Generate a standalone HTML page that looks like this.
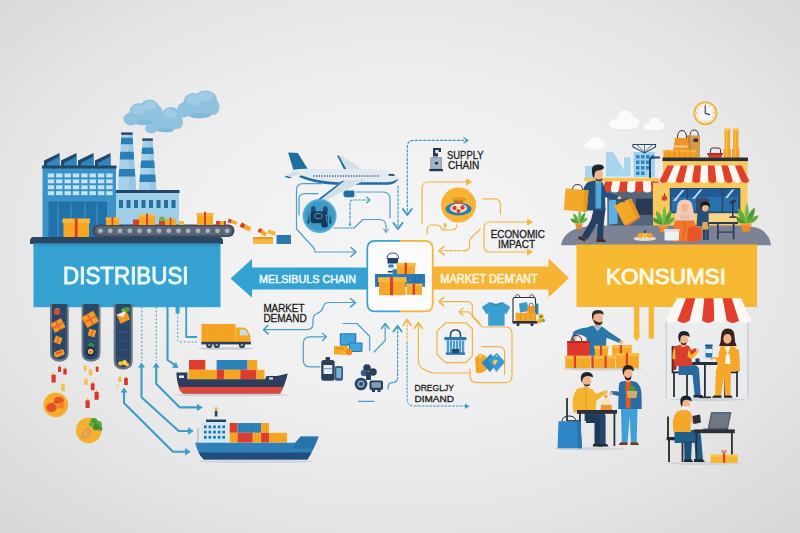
<!DOCTYPE html>
<html><head><meta charset="utf-8">
<style>
html,body{margin:0;padding:0;background:#e6e6e6;}
body{width:800px;height:533px;overflow:hidden;font-family:"Liberation Sans",sans-serif;}
svg{display:block}
text{font-family:"Liberation Sans",sans-serif;}
</style></head><body>
<svg width="800" height="533" viewBox="0 0 800 533">
<defs>
<radialGradient id="bg" cx="50%" cy="47%" r="76%">
<stop offset="0" stop-color="#f5f5f5"/><stop offset="0.35" stop-color="#f0f0f0"/><stop offset="0.65" stop-color="#e6e6e6"/><stop offset="1" stop-color="#d4d4d4"/>
</radialGradient>
<filter id="soft" x="-5%" y="-5%" width="110%" height="110%"><feGaussianBlur stdDeviation="0.45"/></filter>
</defs>
<rect width="800" height="533" fill="url(#bg)"/>
<g filter="url(#soft)">
<!--SMOKE-->
<g id="smoke">
<g fill="#8fc2de">
<ellipse cx="131" cy="119" rx="7.500" ry="6.500"/><ellipse cx="139" cy="112" rx="9.500" ry="9"/><ellipse cx="149.500" cy="108" rx="9.500" ry="8.500"/><ellipse cx="156.500" cy="112" rx="6" ry="7"/><ellipse cx="143" cy="119" rx="12" ry="6.500"/>
<ellipse cx="151.500" cy="128.500" rx="6.500" ry="5"/><ellipse cx="160" cy="123" rx="9.500" ry="8.500"/><ellipse cx="171" cy="116.500" rx="10" ry="9.500"/><ellipse cx="177.500" cy="122" rx="5.500" ry="7"/><ellipse cx="166" cy="127" rx="10" ry="5.500"/>
<ellipse cx="184" cy="110" rx="7" ry="7.500"/><ellipse cx="193" cy="103" rx="10" ry="10"/><ellipse cx="205.500" cy="100" rx="11.500" ry="9.500"/><ellipse cx="213" cy="107" rx="6.500" ry="8"/><ellipse cx="199" cy="112" rx="14" ry="6.500"/>
</g>
<g fill="#a2cee6" opacity="0.850"><ellipse cx="139" cy="110" rx="6.500" ry="5"/><ellipse cx="150" cy="105.500" rx="6" ry="4.500"/><ellipse cx="170" cy="114" rx="6.500" ry="5"/><ellipse cx="194" cy="100" rx="7" ry="5.500"/><ellipse cx="206" cy="96.500" rx="7.500" ry="4.500"/></g>
<g fill="#7db6d6" opacity="0.700"><ellipse cx="145" cy="122" rx="9" ry="2.500"/><ellipse cx="165" cy="130" rx="8" ry="2"/><ellipse cx="200" cy="115.500" rx="11" ry="2.500"/></g>
</g>
<!--FACTORY-->
<g id="factory">
<!-- chimneys -->
<polygon points="121.6,133 132.3,133 136.2,190.6 117.7,190.6" fill="#a6d1e9"/><polygon points="128.4,133 132.3,133 136.2,190.6 129.4,190.6" fill="#96c6e2"/><polygon points="121.3,137.8 132.6,137.8 133.1,144.3 120.8,144.3" fill="#2a7fb5"/><polygon points="120.3,151.8 133.6,151.8 134.1,159.4 119.8,159.4" fill="#2a7fb5"/><polygon points="119.2,169 134.7,169 135.3,176.6 118.6,176.6" fill="#2a7fb5"/><rect x="121.19999999999999" y="132.4" width="11.500000000000018" height="2.4" fill="#24466a"/>
<polygon points="142.7,139 152.4,139 156.5,190.6 138.8,190.6" fill="#a6d1e9"/><polygon points="149.1,139 152.4,139 156.5,190.6 150.2,190.6" fill="#96c6e2"/><polygon points="142.1,147.5 153.1,147.5 153.6,154 141.6,154" fill="#2a7fb5"/><polygon points="141.1,160.5 154.1,160.5 154.7,168 140.5,168" fill="#2a7fb5"/><polygon points="140.0,174.5 155.2,174.5 155.8,182 139.5,182" fill="#2a7fb5"/><rect x="142.29999999999998" y="138.4" width="10.500000000000018" height="2.4" fill="#24466a"/>
<!-- secondary building -->
<rect x="116" y="191" width="63" height="46" fill="#9fcfe9"/>
<rect x="115.500" y="190" width="64" height="3" fill="#24466a"/>
<g fill="#256f9f">
<rect x="119" y="200" width="4" height="8"/><rect x="126.500" y="200" width="4" height="8"/><rect x="134" y="200" width="4" height="8"/><rect x="141.500" y="200" width="4" height="8"/><rect x="149" y="200" width="4" height="8"/><rect x="156.500" y="200" width="4" height="8"/><rect x="164" y="200" width="4" height="8"/><rect x="171.500" y="200" width="4" height="8"/>
</g>
<!-- main building -->
<g>
<polygon points="44,160.500 59.500,153 59.500,166 44,166" fill="#24466a"/><polygon points="47,163 59.500,156.500 59.500,166 47,166" fill="#2f86bd"/>
<polygon points="61,160.500 76.500,153 76.500,166 61,166" fill="#24466a"/><polygon points="64,163 76.500,156.500 76.500,166 64,166" fill="#2f86bd"/>
<polygon points="78,160.500 93.500,153 93.500,166 78,166" fill="#24466a"/><polygon points="81,163 93.500,156.500 93.500,166 81,166" fill="#2f86bd"/>
<polygon points="95,160.500 110.500,153 110.500,166 95,166" fill="#24466a"/><polygon points="98,163 110.500,156.500 110.500,166 98,166" fill="#2f86bd"/>
</g>
<rect x="42.500" y="166" width="73.500" height="71" fill="#3b93c7"/>
<rect x="42" y="165.500" width="74.500" height="3" fill="#24466a"/>
<g fill="#c4e3f5">
<rect x="47.8" y="173.5" width="6.4" height="3.9"/><rect x="56.1" y="173.5" width="6.4" height="3.9"/><rect x="64.5" y="173.5" width="6.4" height="3.9"/><rect x="72.8" y="173.5" width="6.4" height="3.9"/><rect x="81.2" y="173.5" width="6.4" height="3.9"/><rect x="89.5" y="173.5" width="6.4" height="3.9"/><rect x="97.9" y="173.5" width="6.4" height="3.9"/><rect x="106.2" y="173.5" width="6.4" height="3.9"/><rect x="47.8" y="179.4" width="6.4" height="3.9"/><rect x="56.1" y="179.4" width="6.4" height="3.9"/><rect x="64.5" y="179.4" width="6.4" height="3.9"/><rect x="72.8" y="179.4" width="6.4" height="3.9"/><rect x="81.2" y="179.4" width="6.4" height="3.9"/><rect x="89.5" y="179.4" width="6.4" height="3.9"/><rect x="97.9" y="179.4" width="6.4" height="3.9"/><rect x="106.2" y="179.4" width="6.4" height="3.9"/><rect x="47.8" y="185.3" width="6.4" height="3.9"/><rect x="56.1" y="185.3" width="6.4" height="3.9"/><rect x="64.5" y="185.3" width="6.4" height="3.9"/><rect x="72.8" y="185.3" width="6.4" height="3.9"/><rect x="81.2" y="185.3" width="6.4" height="3.9"/><rect x="89.5" y="185.3" width="6.4" height="3.9"/><rect x="97.9" y="185.3" width="6.4" height="3.9"/><rect x="106.2" y="185.3" width="6.4" height="3.9"/><rect x="47.8" y="191.2" width="6.4" height="3.9"/><rect x="56.1" y="191.2" width="6.4" height="3.9"/><rect x="64.5" y="191.2" width="6.4" height="3.9"/><rect x="72.8" y="191.2" width="6.4" height="3.9"/><rect x="81.2" y="191.2" width="6.4" height="3.9"/><rect x="89.5" y="191.2" width="6.4" height="3.9"/><rect x="97.9" y="191.2" width="6.4" height="3.9"/><rect x="106.2" y="191.2" width="6.4" height="3.9"/>
</g>
<rect x="48.500" y="201.500" width="58.500" height="35.500" fill="#2272aa"/>
<g stroke="#4aa0d2" stroke-width="0.8"><line x1="58" y1="203" x2="58" y2="237"/><line x1="71" y1="203" x2="71" y2="237"/><line x1="85" y1="203" x2="85" y2="237"/><line x1="97" y1="203" x2="97" y2="237"/></g>
</g>
<!--CONVEYOR-->
<g id="conveyor">
<rect x="92.500" y="224.500" width="142" height="12.500" rx="6.200" fill="#3d4b5c"/>
<rect x="95" y="226.300" width="137" height="9" rx="4.500" fill="#5b6778"/>
<g fill="#aab4bf">
<circle cx="100.5" cy="230.8" r="2.4"/><circle cx="110.2" cy="230.8" r="2.4"/><circle cx="120.0" cy="230.8" r="2.4"/><circle cx="129.8" cy="230.8" r="2.4"/><circle cx="139.5" cy="230.8" r="2.4"/><circle cx="149.2" cy="230.8" r="2.4"/><circle cx="159.0" cy="230.8" r="2.4"/><circle cx="168.8" cy="230.8" r="2.4"/><circle cx="178.5" cy="230.8" r="2.4"/><circle cx="188.2" cy="230.8" r="2.4"/><circle cx="198.0" cy="230.8" r="2.4"/><circle cx="207.8" cy="230.8" r="2.4"/><circle cx="217.5" cy="230.8" r="2.4"/><circle cx="227.2" cy="230.8" r="2.4"/>
</g>
</g>
<!--BOXES ON CONVEYOR-->
<g id="cboxes">
<rect x="63.500" y="222" width="25.500" height="15" fill="#f7a823"/><rect x="62.500" y="218.500" width="27.500" height="4.500" fill="#f9b53a"/><rect x="74.800" y="218.500" width="2.800" height="18.500" fill="#d9402b"/>
<rect x="106" y="219" width="13" height="6" fill="#f7a823"/><rect x="105.500" y="217.500" width="14" height="2" fill="#f9b53a"/><rect x="111.500" y="216.500" width="1.800" height="8.500" fill="#d9402b"/>
<rect x="133" y="219.500" width="6" height="5.500" fill="#d9402b"/>
<rect x="139" y="216" width="16" height="9" fill="#f7a823"/><rect x="138.500" y="214.500" width="17" height="2.500" fill="#f9b53a"/><rect x="146" y="213.500" width="2" height="11.500" fill="#d9402b"/>
<circle cx="162" cy="219.500" r="3" fill="#6fb24a"/><rect x="159" y="221" width="6" height="4" fill="#d9402b"/>
<rect x="165" y="219" width="11" height="6" fill="#f7a823"/><rect x="169.800" y="217.500" width="1.600" height="7.500" fill="#d9402b"/>
<rect x="179" y="221" width="5" height="4" fill="#f9b53a"/>
<rect x="197" y="215" width="16" height="10" fill="#f7a823"/><rect x="196.500" y="213" width="17" height="3" fill="#f9b53a"/><rect x="204" y="212" width="2" height="13" fill="#d9402b"/>
<rect x="216" y="221" width="10" height="4" fill="#d9402b"/><rect x="220" y="221" width="4" height="4" fill="#f7a823"/>
<!-- falling -->
<g transform="rotate(18 232 222)"><rect x="228" y="220" width="9" height="3.500" fill="#f7a823"/><rect x="228" y="220" width="3" height="3.500" fill="#d9402b"/></g>
<g transform="rotate(28 245 227)"><rect x="240" y="224.500" width="11" height="4.500" fill="#f7a823"/><rect x="240" y="224.500" width="4" height="4.500" fill="#d9402b"/></g>
<g transform="rotate(35 262 232)"><rect x="258" y="230" width="9" height="4" fill="#f7a823"/><rect x="258" y="230" width="3" height="4" fill="#d9402b"/></g>
<g transform="rotate(20 270 234)"><rect x="267" y="230" width="8" height="4" fill="#f9b53a"/></g>
<rect x="253" y="237" width="20" height="7" fill="#f7b740"/><rect x="253" y="237" width="20" height="2" fill="#e79a1d"/>
<rect x="276.500" y="235" width="14.500" height="9" fill="#2f7fb6"/><g stroke="#1f5f92" stroke-width="0.600"><line x1="279" y1="235" x2="279" y2="244"/><line x1="282" y1="235" x2="282" y2="244"/><line x1="285" y1="235" x2="285" y2="244"/><line x1="288" y1="235" x2="288" y2="244"/></g>
</g>
<!--PLATFORM + BANNER-->
<path d="M34,237 H219 q4,0 4,4 v3 H30 v-3 q0,-4 4,-4z" fill="#2c4662"/>
<rect x="33.500" y="243.500" width="187" height="63.700" fill="#34a2d2"/>
<rect x="33.500" y="243.500" width="186" height="3" fill="#2f86bd" opacity="0.500"/>
<text id="t_dist" x="125.800" y="284.400" font-size="23" fill="#eefaff" text-anchor="middle" textLength="125.500" lengthAdjust="spacingAndGlyphs" stroke="#eefaff" stroke-width="0.900">DISTRIBUSI</text>
<!--CHUTES-->
<g id="chutes">
<path d="M50,304 h18.700 v48.500 q0,9.200 -9.350,9.200 q-9.350,0 -9.350,-9.200z" fill="#6a7788"/><path d="M52,304 h14.700 v48 q0,7.400 -7.350,7.400 q-7.350,0 -7.350,-7.400z" fill="#2b4767"/>
<path d="M81.600,304 h18.900 v48.500 q0,9.200 -9.450,9.200 q-9.450,0 -9.450,-9.200z" fill="#6a7788"/><path d="M83.600,304 h14.900 v48 q0,7.400 -7.450,7.400 q-7.450,0 -7.450,-7.400z" fill="#2b4767"/>
<path d="M113.700,304 h19 v56.500 q0,9.200 -9.500,9.200 q-9.500,0 -9.500,-9.200z" fill="#6a7788"/><path d="M115.700,304 h15 v56 q0,7.400 -7.500,7.400 q-7.500,0 -7.500,-7.400z" fill="#2b4767"/>
<g stroke="#3f5f84" stroke-width="0.700">
<path d="M52,314h14.700M52,323h14.700M52,332h14.700M52,341h14.700M52,350h14.700M83.600,314h14.900M83.600,323h14.900M83.600,332h14.900M83.600,341h14.900M83.600,350h14.900M115.700,314h15M115.700,323h15M115.700,332h15M115.700,341h15M115.700,350h15M115.700,359h15"/></g>
</g>
</g>

<!--BIG ARROWS-->
<polygon points="230.500,278.500 252,259 252,267.500 367,267.500 367,289.500 252,289.500 252,297.800" fill="#34a2d2"/>
<polygon points="433,266.500 548.500,266.500 548.500,258.500 569,278 548.500,297.500 548.500,289.500 433,289.500" fill="#f6b334"/>
<text id="t_mel" x="307.500" y="283" font-size="11.800" fill="#eef8ff" text-anchor="middle" textLength="97" lengthAdjust="spacingAndGlyphs" stroke="#eef8ff" stroke-width="0.550">MELSIBULS CHAIN</text>
<text id="t_md2" x="489" y="282.800" font-size="12.200" fill="#fff8e6" text-anchor="middle" textLength="97.500" lengthAdjust="spacingAndGlyphs" stroke="#fff8e6" stroke-width="0.550">MARKET DEM'ANT</text>
<!--CENTER BOX-->
<rect x="367.300" y="240.800" width="65.400" height="70.600" rx="8" fill="#fbfbfb"/>
<path d="M400,240.800 H375.300 q-8,0 -8,8 V303.400 q0,8 8,8 H400" fill="none" stroke="#34a2d2" stroke-width="1.700"/>
<path d="M400,240.800 H424.700 q8,0 8,8 V303.400 q0,8 -8,8 H400" fill="none" stroke="#f6b334" stroke-width="1.700"/>
<g id="centerboxes">
<rect x="387.500" y="256" width="10.500" height="21.500" fill="#eef2f5"/>
<path d="M387,258.500 q0,-5.500 5.750,-5.500 q5.750,0 5.750,5.500z" fill="#f4f6f8" stroke="#1f3558" stroke-width="0.900"/>
<rect x="387.500" y="258.500" width="10.500" height="5" fill="#1f3f6a"/><rect x="388.500" y="264.500" width="5" height="3" fill="#2f7fb6"/><rect x="388" y="271" width="9.500" height="1.500" fill="#1f3f6a"/>
<rect x="375" y="274" width="50" height="12.800" fill="#2a7db5"/>
<rect x="392.700" y="269.300" width="20" height="13.500" fill="#2f86bd"/>
<path d="M377.500,274v12.800M380,274v12.800M382.500,274v12.800M385,274v12.800M409,274v12.800M412,274v12.800M415,274v12.800M418,274v12.800M421,274v12.800M395.500,269.500v6M398.500,269.500v6M401.500,272v6M404.500,272v6M407.500,272v8" stroke="#1d5f90" stroke-width="0.600" fill="none"/>
<rect x="397" y="265.500" width="18" height="8.500" fill="#f5a828"/><rect x="396.300" y="262.900" width="19.500" height="3.300" fill="#f9b840"/><rect x="404.600" y="262.900" width="2.400" height="11.100" fill="#d9402b"/>
<rect x="379" y="281.500" width="26.500" height="13.700" fill="#f5a828"/><rect x="378" y="277.200" width="28.500" height="4.800" fill="#f9b840"/><rect x="390" y="277.200" width="3.100" height="18" fill="#d9402b"/>
<rect x="406.800" y="286" width="15.200" height="8.800" fill="#f5a828"/><rect x="406.200" y="283.600" width="16.400" height="2.900" fill="#f9b840"/><rect x="412.600" y="283.600" width="2.400" height="11.200" fill="#d9402b"/>
</g>
<!--MARKET SCENE-->
<g id="market">
<g transform="translate(608.5,110.5) scale(1.0333333333333334)" fill="#fbfbfb"><ellipse cx="8" cy="13" rx="8" ry="5"/><ellipse cx="16" cy="8" rx="8" ry="8"/><ellipse cx="23" cy="12" rx="7" ry="6"/><rect x="6" y="12" width="19" height="6" rx="3"/></g><g transform="translate(643.5,117.5) scale(0.7)" fill="#fbfbfb"><ellipse cx="8" cy="13" rx="8" ry="5"/><ellipse cx="16" cy="8" rx="8" ry="8"/><ellipse cx="23" cy="12" rx="7" ry="6"/><rect x="6" y="12" width="19" height="6" rx="3"/></g><g transform="translate(584,136.5) scale(0.7)" fill="#fbfbfb"><ellipse cx="8" cy="13" rx="8" ry="5"/><ellipse cx="16" cy="8" rx="8" ry="8"/><ellipse cx="23" cy="12" rx="7" ry="6"/><rect x="6" y="12" width="19" height="6" rx="3"/></g>
<!-- clock -->
<circle cx="705.400" cy="113.300" r="12" fill="#f0b840"/><circle cx="705.400" cy="113.300" r="10" fill="#f5f5f8"/><path d="M705.200,105.800 V113.300 L709.500,114.600" stroke="#2b3f5c" stroke-width="1.100" fill="none" stroke-linecap="round"/>
<g fill="#f0a030"><circle cx="705.400" cy="105" r="0.700"/><circle cx="705.400" cy="121.600" r="0.700"/><circle cx="697.100" cy="113.300" r="0.700"/><circle cx="713.700" cy="113.300" r="0.700"/><circle cx="709.500" cy="106.100" r="0.550"/><circle cx="712.600" cy="109.200" r="0.550"/><circle cx="712.600" cy="117.400" r="0.550"/><circle cx="709.500" cy="120.500" r="0.550"/><circle cx="701.300" cy="120.500" r="0.550"/><circle cx="698.200" cy="117.400" r="0.550"/><circle cx="698.200" cy="109.200" r="0.550"/><circle cx="701.300" cy="106.100" r="0.550"/></g>
<!-- bg buildings -->
<rect x="585" y="166" width="9.500" height="15" fill="#a8d4ee"/>
<path d="M606,176.500 V151.700 H613 L624,170 V157.500 H630.600 V176.500z" fill="#a8d4ee"/>
<rect x="633.500" y="152" width="21.500" height="25" fill="#9fd0ee"/>
<g fill="#2f86bd"><rect x="636" y="155" width="3.500" height="3.500"/><rect x="641" y="155" width="3.500" height="3.500"/><rect x="646" y="155" width="3.500" height="3.500"/><rect x="651" y="155" width="3" height="3.500"/><rect x="636" y="160.500" width="3.500" height="3.500"/><rect x="641" y="160.500" width="3.500" height="3.500"/><rect x="646" y="160.500" width="3.500" height="3.500"/><rect x="636" y="166" width="3.500" height="3.500"/><rect x="641" y="166" width="3.500" height="3.500"/><rect x="646" y="166" width="3.500" height="3.500"/><rect x="636" y="171.500" width="3.500" height="3.500"/><rect x="641" y="171.500" width="3.500" height="3.500"/></g>
<path d="M633,144.500 H655.500 V147 L644.500,153 L633,147z" fill="none" stroke="#24466a" stroke-width="1.100"/><path d="M637,145 L644.500,152 L652,145 M644.500,145 V152" stroke="#24466a" stroke-width="0.700" fill="none"/>
<path d="M650,178 V160 q0,-2.500 2.500,-2.500 H660" stroke="#24466a" stroke-width="2" fill="none"/>
<!-- roof items -->
<g>
<path d="M677.500,140 v-2 q0,-7.500 4.500,-7.500 q4.500,0 4.500,7.500 v2" fill="none" stroke="#3a3040" stroke-width="1"/>
<path d="M690,137 v-1 q0,-6 4.200,-6 q4.200,0 4.200,6 v1" fill="none" stroke="#3a3040" stroke-width="1"/>
<rect x="687.300" y="135.500" width="12.700" height="22" fill="#d49a4c"/><rect x="687.300" y="135.500" width="3" height="22" fill="#bf843a"/><rect x="693.500" y="138.500" width="4.500" height="3.500" fill="#3a3040"/>
<path d="M675,138 h12.500 l1.500,13 h-16z" fill="#f0952a"/><rect x="674" y="145.500" width="14.500" height="2" fill="#fbd9a0" opacity="0.800"/>
<rect x="663.400" y="151.500" width="32.400" height="6.300" fill="#f59f25"/><rect x="663" y="149.900" width="33.200" height="2.300" fill="#f9b53a"/>
<path d="M668.800,150v8M674.200,150v8M679.600,150v8M685,150v8M690.400,150v8" stroke="#d98812" stroke-width="0.800"/>
<path d="M710.500,154 v-4 q0,-2 2,-2 h6 q2,0 2,2 v4" fill="none" stroke="#3a3040" stroke-width="1"/>
<path d="M707.700,153.400 h14.800 l-1,4.400 h-12.800z" fill="#d9402b"/><rect x="707.300" y="153" width="15.600" height="1.600" fill="#b02a1e"/>
<rect x="724.600" y="130" width="5.600" height="27.600" fill="#f3a62a"/><rect x="724" y="128.600" width="6.800" height="2.400" rx="0.800" fill="#f7bd4f"/><rect x="723.600" y="149" width="7.400" height="8.600" fill="#f0a02a"/>
<rect x="733" y="130" width="5.600" height="27.600" fill="#f3a62a"/><rect x="732.400" y="128.600" width="6.800" height="2.400" rx="0.800" fill="#f7bd4f"/><rect x="732" y="149" width="7.400" height="8.600" fill="#f0a02a"/>
<rect x="726" y="131" width="1.300" height="26" fill="#f7bd4f"/><rect x="734.400" y="131" width="1.300" height="26" fill="#f7bd4f"/>
</g>
<!-- small shop -->
<rect x="584" y="177.800" width="75" height="3.500" fill="#f6c453"/>
<rect x="607.300" y="190" width="46" height="37" fill="#52657b"/>
<rect x="636" y="198.800" width="16.500" height="16" fill="#2b3a52"/>
<rect x="611" y="198" width="20" height="28" fill="#43566d"/>
<path d="M605.0,181.5 L612.6,181.5 L610.6,191 q-4.07,3.0 -8.14,0z" fill="#e2402d"/><path d="M612.6,181.5 L620.3,181.5 L618.8,191 q-4.07,3.0 -8.14,0z" fill="#fbf7f2"/><path d="M620.3,181.5 L627.9,181.5 L626.9,191 q-4.07,3.0 -8.14,0z" fill="#e2402d"/><path d="M627.9,181.5 L635.6,181.5 L635.1,191 q-4.07,3.0 -8.14,0z" fill="#fbf7f2"/><path d="M635.6,181.5 L643.2,181.5 L643.2,191 q-4.07,3.0 -8.14,0z" fill="#e2402d"/><path d="M643.2,181.5 L650.9,181.5 L651.4,191 q-4.07,3.0 -8.14,0z" fill="#fbf7f2"/><path d="M650.9,181.5 L658.5,181.5 L659.5,191 q-4.07,3.0 -8.14,0z" fill="#e2402d"/>
<!-- main shop -->
<rect x="663" y="160" width="84.500" height="67.500" fill="#f8c95c"/><rect x="653" y="183" width="11" height="44.500" fill="#f8c95c"/>
<rect x="662.500" y="157.500" width="85.500" height="3.600" fill="#2b2f3a"/>
<rect x="669.800" y="188" width="70.500" height="25.300" fill="#24466a"/>
<rect x="670.800" y="189" width="68.500" height="23.300" fill="#1f5b94"/><rect x="672" y="197" width="66" height="14.300" fill="#2a70ad"/>
<path d="M673,201 l9,-11 h2.500 l-9,11z M692,199 l8,-9.500 h2.500 l-8,9.500z M725,198 l7,-8.500 h2.500 l-7,8.500z" fill="#dfeefa" opacity="0.850"/>
<rect x="686.600" y="189" width="1.400" height="23.300" fill="#24466a"/><rect x="721.700" y="189" width="1.400" height="23.300" fill="#24466a"/>
<rect x="696" y="198" width="13" height="14.300" rx="2" fill="#3a4a6a"/>
<path d="M667.4,165.6 L674.1,165.6 L667.5,181 q-4.10,3.8 -8.19,0z" fill="#e2402d"/><path d="M674.1,165.6 L680.9,165.6 L675.7,181 q-4.10,3.8 -8.19,0z" fill="#fbf7f2"/><path d="M680.9,165.6 L687.6,165.6 L683.9,181 q-4.10,3.8 -8.19,0z" fill="#e2402d"/><path d="M687.6,165.6 L694.4,165.6 L692.1,181 q-4.10,3.8 -8.19,0z" fill="#fbf7f2"/><path d="M694.4,165.6 L701.1,165.6 L700.3,181 q-4.10,3.8 -8.19,0z" fill="#e2402d"/><path d="M701.1,165.6 L707.9,165.6 L708.4,181 q-4.10,3.8 -8.19,0z" fill="#fbf7f2"/><path d="M707.9,165.6 L714.6,165.6 L716.6,181 q-4.10,3.8 -8.19,0z" fill="#e2402d"/><path d="M714.6,165.6 L721.4,165.6 L724.8,181 q-4.10,3.8 -8.19,0z" fill="#fbf7f2"/><path d="M721.4,165.6 L728.1,165.6 L733.0,181 q-4.10,3.8 -8.19,0z" fill="#e2402d"/><path d="M728.1,165.6 L734.9,165.6 L741.2,181 q-4.10,3.8 -8.19,0z" fill="#fbf7f2"/><path d="M734.9,165.6 L741.6,165.6 L749.4,181 q-4.10,3.8 -8.19,0z" fill="#e2402d"/>
<!-- platform -->
<path d="M561,245.300 Q563,233 577,228.500 Q586,225.500 604,225.500 H737 Q755,225.500 762,230 Q770,236 771,245.300 Z" fill="#7b8394"/>
<rect x="576.500" y="244.500" width="180.500" height="4" fill="#f6b830"/>
<!-- plants -->
<g transform="translate(579,229) scale(0.62)"><path d="M0,-8 q-10,-6 -9,-18 q8,4 9,18z" fill="#5fae3f"/><path d="M0,-8 q10,-6 10,-19 q-8,5 -10,19z" fill="#4c9a35"/><path d="M0,-8 q-3,-14 1,-24 q5,10 -1,24z" fill="#6fbe4a"/><path d="M0,-8 q-12,-1 -14,-9 q9,0 14,9z" fill="#4c9a35"/><path d="M0,-8 q12,-1 14,-10 q-9,1 -14,10z" fill="#5fae3f"/><path d="M-5.500,-8 h11 l-1.200,8 h-8.600z" fill="#ee8a2c"/><rect x="-6.200" y="-9" width="12.400" height="2.200" fill="#f3a24a"/></g><g transform="translate(663.5,232) scale(0.82)"><path d="M0,-8 q-10,-6 -9,-18 q8,4 9,18z" fill="#5fae3f"/><path d="M0,-8 q10,-6 10,-19 q-8,5 -10,19z" fill="#4c9a35"/><path d="M0,-8 q-3,-14 1,-24 q5,10 -1,24z" fill="#6fbe4a"/><path d="M0,-8 q-12,-1 -14,-9 q9,0 14,9z" fill="#4c9a35"/><path d="M0,-8 q12,-1 14,-10 q-9,1 -14,10z" fill="#5fae3f"/><path d="M-5.500,-8 h11 l-1.200,8 h-8.600z" fill="#ee8a2c"/><rect x="-6.200" y="-9" width="12.400" height="2.200" fill="#f3a24a"/></g><g transform="translate(746,231.5) scale(0.9)"><path d="M0,-8 q-10,-6 -9,-18 q8,4 9,18z" fill="#5fae3f"/><path d="M0,-8 q10,-6 10,-19 q-8,5 -10,19z" fill="#4c9a35"/><path d="M0,-8 q-3,-14 1,-24 q5,10 -1,24z" fill="#6fbe4a"/><path d="M0,-8 q-12,-1 -14,-9 q9,0 14,9z" fill="#4c9a35"/><path d="M0,-8 q12,-1 14,-10 q-9,1 -14,10z" fill="#5fae3f"/><path d="M-5.500,-8 h11 l-1.200,8 h-8.600z" fill="#ee8a2c"/><rect x="-6.200" y="-9" width="12.400" height="2.200" fill="#f3a24a"/></g>
<circle cx="664.500" cy="198.200" r="2.600" fill="#d9402b"/><rect x="664.100" y="193" width="0.800" height="3" fill="#7a2a1e"/>
<!-- man w/ bags -->
<g id="man1">
<path d="M608.800,200.500 l8,-1 l1,24 l-9,1z" fill="#5ab0e0"/>
<path d="M594,208 L605.500,208 L603.800,224 L603,239 L597,239 L597.500,223 L587.500,239.500 L581.500,236.800 L591,220z" fill="#243f62"/>
<path d="M579.500,236 l6.500,3 l-1.200,2.600 l-7,-2.800z" fill="#4a2a1e"/><path d="M596.500,238.800 h7 l3,3.200 h-10z" fill="#4a2a1e"/>
<path d="M588,182 q8.500,-3 14.500,0 l3.500,10 l13,4.300 l-1,4 l-13,-3 l0.500,13.200 h-21 z" fill="#24507a"/>
<path d="M595.500,181.500 h6 l-0.500,27 h-5.500z" fill="#4fa8d8"/>
<path d="M588,182 q-5,4 -5.500,12 l3,0.500 l4,-7z" fill="#24507a"/>
<circle cx="619.300" cy="198.200" r="1.900" fill="#f0b58c"/><circle cx="584.300" cy="194.200" r="1.700" fill="#f0b58c"/>
<rect x="596" y="177.500" width="4.500" height="5" fill="#e4a27a"/>
<ellipse cx="598.300" cy="174.300" rx="4.700" ry="5.800" fill="#f0b58c"/>
<path d="M592,172.500 q-1.500,-8 6,-8 q6,-0.500 6,3.500 q-1.500,2.200 -5,2.200 q-3.800,0 -4.300,3.500 l-0.700,4.500 q-2,-2 -2,-5.700z" fill="#1c2433"/>
<path d="M595.500,178 q3.500,3 7,0 l-0.500,2.500 q-3,2 -6,-0.200z" fill="#1c2433" opacity="0.850"/>
<path d="M572.500,190 q0,-5.500 5,-5.500 q5,0 5,5.500" fill="none" stroke="#2b3040" stroke-width="1"/>
<path d="M565.500,188.500 l23,1.800 l-1.800,21.700 l-22.800,-2z" fill="#f5a828"/><path d="M584.500,190 l4,0.300 l-1.800,21.700 l-3.700,-0.300z" fill="#e9961c"/>
<path d="M622,214 l14,-6 l4,10 l-13,8.500z" fill="#ee7b2b"/>
<path d="M614,205.500 l17,-7.300 l8.500,18 l-15,9.300z" fill="#f5a828"/><path d="M627.500,199.700 l3.500,-1.500 l8.500,18 l-3.300,2z" fill="#e9961c"/>
<path d="M616.500,205 q-1,-5 2,-5.500 q3,-0.500 6,3" fill="none" stroke="#2b3040" stroke-width="0.800"/>
</g>
<!-- woman -->
<g id="woman">
<path d="M677,216 q-5,10 -4.800,25.500 h22 q9,0 8.500,-8 q-0.500,-7 -7,-8 l-3.500,-9.500z" fill="#f0782c"/>
<path d="M688,228 q9,-4 13,2.500 q3,6 -3,11 h-11z" fill="#e8552b"/>
<path d="M683.500,217 l1.500,10 l-2,12" stroke="#d9502a" stroke-width="0.800" fill="none"/>
<path d="M677,208 q0,-8.500 7.800,-8.500 q8,0 8,8.500 q0,4 2.500,7.500 q1.500,3.500 -2,5 h-17 q-3,-2.500 -0.800,-6.500 q1.500,-2.500 1.500,-6z" fill="#f0cdb8"/>
<ellipse cx="684.800" cy="207.800" rx="3.500" ry="4.400" fill="#f2b48a"/>
<path d="M681,213.500 q4,4 8,0 l1,5.500 h-10z" fill="#e8bfa5"/>
</g>
<!-- child -->
<g id="child">
<rect x="703" y="228" width="2.600" height="12" fill="#24466a"/><rect x="706.200" y="228" width="2.600" height="12" fill="#24466a"/>
<path d="M697.500,213 q5,-2 11,0 l0.500,13 h-12.500z" fill="#24507a"/>
<path d="M702.500,222 h5 l1,7.500 h-6.500z" fill="#e8a55a"/>
<ellipse cx="705.200" cy="207.500" rx="3.400" ry="4" fill="#f2b48a"/>
<path d="M700.600,207.500 q-0.800,-6 4.600,-6 q5.400,0 4.800,6.500 q-1.500,-3 -4.500,-3 q-3,0 -3.500,2 l-0.500,3z" fill="#15181f"/>
</g>
<!-- table -->
<g>
<path d="M710,213.500 h25 l2.500,8.700 h-29z" fill="#f7d58a"/>
<g fill="#2b3a52"><rect x="708.500" y="222" width="29.500" height="2"/><rect x="717" y="224" width="1.700" height="15.300"/><rect x="732.800" y="224" width="1.700" height="15.300"/><rect x="717" y="231.500" width="17" height="1.200"/>
<rect x="732" y="201" width="1.600" height="16"/><path d="M729.300,201.500 l6,-2.200 l1,2.500 l-6,2.200z"/><rect x="729.300" y="216.300" width="7" height="1.600"/></g>
</g>
<!-- pot -->
<rect x="664.500" y="230.500" width="14.500" height="10" rx="1.500" fill="#eef1f4"/><rect x="663.800" y="229" width="16" height="2.600" rx="1" fill="#d5dbe2"/>
<!-- plate -->
<ellipse cx="644.800" cy="238.600" rx="11.500" ry="2.300" fill="#e8ddcc"/><circle cx="640" cy="235.500" r="2.600" fill="#f5a828"/><circle cx="645" cy="234.800" r="2.800" fill="#f7b740"/><circle cx="650" cy="235.500" r="2.600" fill="#f5a828"/><rect x="643.800" y="230.500" width="2.400" height="2.500" fill="#3a3a6a"/>
</g>
<!--KONSUMSI-->
<rect x="576.500" y="247" width="180.500" height="60" fill="#f6b830"/>
<text id="t_kon" x="666" y="284.400" font-size="22.500" fill="#fffbea" text-anchor="middle" textLength="120" lengthAdjust="spacingAndGlyphs" stroke="#fffbea" stroke-width="0.900">KONSUMSI</text>
<path d="M633.900,307 h5.500 v28.300 h1.400 l-4.150,6 l-4.150,-6 h1.400z" fill="#f6b830"/>
<rect x="648.600" y="307" width="5.500" height="31.600" fill="#f6b830"/>

<!--THIN BLUE LINES (left / center)-->
<g id="bluelines" fill="none" stroke="#4aa0cb" stroke-width="1.200" stroke-linecap="round" stroke-linejoin="round">
<path d="M322,183.600 H303 q-6.500,0 -6.500,6.500 V229 L313,247 q2,2.200 2,5 h40"/>
<path d="M318,193.600 H305 q-6,0 -6,6 V215"/>
<path d="M356,192 H383 q7,0 7,7 V218"/>
<path d="M334,228 H354 L363,219.500 H379 q7,0 7,7 V232"/>
<path d="M350,223 V203 q0,-3 3,-3 H369" stroke-dasharray="2.500 1.800"/>
<path d="M264,329.700 H306 q7,0 7,-6 V320 q0,-5 4,-6.500 q5,-2 6,-6 q1,-5 6,-5 H355"/>
<path d="M326,336.900 H310 q-6.700,0 -6.700,6.700 V360 q0,6.800 6.700,6.800 H320"/>
<path d="M343,323.500 H357 L369.700,336.500 V350.500"/>
<path d="M374,352 L385.200,340.500 V325"/>
<path d="M383.500,324 V337 L374.500,350.500" opacity="0"/>
<path d="M397.600,377.600 q0,5 -5,5 q-4.500,0 -4.500,4.500 V389"/>
<path d="M358.400,401.300 H374"/>
<path d="M397.600,327 V377.600" stroke-dasharray="2.200 2" stroke="#3f9cc7"/>
<path d="M398,186 V228" stroke-dasharray="2.200 2" stroke="#3f9cc7"/>
<path d="M407.300,215 V147 q0,-6.600 6.600,-6.600 H467" stroke-dasharray="2.200 2" stroke="#3f9cc7"/>
</g>
<g id="bluearrowheads" fill="none" stroke="#3f9cc7" stroke-width="1.500" stroke-linecap="round" stroke-linejoin="round">
<path d="M351,247.500 l5,4.500 l-5,4.500"/>
<path d="M366.500,197 l3.500,3 l-3.500,3" stroke-width="1.100"/>
<path d="M383.500,229 l2.500,3.500 l2.500,-3.500" stroke-width="1"/>
<path d="M393.500,223 l4.500,6 l4.500,-6" stroke-width="2"/>
<path d="M402.800,209 l4.500,6 l4.500,-6" stroke-width="2"/>
<path d="M464,137.800 l4,2.600 l-4,2.600" stroke-width="1.200"/>
<path d="M268,325.500 l-4.500,4.200 l4.500,4.200"/>
<path d="M350.500,298.500 l5,4.200 l-5,4.200"/>
<path d="M322.500,333.300 l4,3.600 l-4,3.600" stroke-width="1.200"/>
<path d="M381.500,328.500 l3.700,-5 l3.700,5"/>
<path d="M393.500,331.500 l4.100,-5.800 l4.100,5.800" stroke-width="1.800"/>
<path d="M379.800,327.500 l3.700,-5 l3.700,5" opacity="0"/>
</g>
<circle cx="350" cy="224.500" r="1.300" fill="#4fa3cd"/>
<!--LEFT lines from banner down to ships-->
<g id="dlines" fill="none" stroke="#3d9dc6" stroke-width="2.100" stroke-linecap="butt" stroke-linejoin="round">
<path d="M141.500,366 V397.300 L178.700,431 H189"/>
<path d="M156.200,366 V383.800 L179.800,407.400 H198"/>
<path d="M124,391 V403 L173,451.800 H186"/>
<path d="M167.500,306 V360 L175,365.200"/>
<path d="M141.800,307 V361" stroke-dasharray="1.800 2" stroke-width="1.100"/>
<path d="M156.300,307 V361" stroke-dasharray="1.800 2" stroke-width="1.100"/>
<path d="M186.200,306 V337 H197" stroke-width="1.800" stroke-linecap="butt"/>
<path d="M177.700,313 V339.600 q0,2.400 2.400,2.400 H197" stroke-dasharray="1.800 2" stroke-width="1" />
<g fill="#3d9dc6" stroke="none">
<path d="M138,367.500 l3.500,-5 l3.500,5z"/><path d="M152.700,367.500 l3.500,-5 l3.500,5z"/><path d="M120.500,392.500 l3.500,-5 l3.500,5z"/>
<path d="M188,427.300 l5.800,3.700 l-5.800,3.700z"/><path d="M197,403.700 l5.800,3.700 l-5.800,3.700z"/><path d="M185,448.100 l5.800,3.700 l-5.800,3.700z"/>
<path d="M172,367.800 l6.500,0.200 l-2.500,-6z"/>
</g>
</g>
<rect x="175.600" y="306" width="4" height="7.400" fill="#34a2d2"/>

<!--TRUCK-->
<g id="truck">
<ellipse cx="226" cy="348.500" rx="28" ry="1.300" fill="#c9ccd0"/>
<rect x="201.4" y="324.0" width="34.1" height="18.0" fill="#f7a823"/><path d="M203.7,324.8v16.4M205.9,324.8v16.4M208.2,324.8v16.4M210.5,324.8v16.4M212.8,324.8v16.4M215.0,324.8v16.4M217.3,324.8v16.4M219.6,324.8v16.4M221.9,324.8v16.4M224.1,324.8v16.4M226.4,324.8v16.4M228.7,324.8v16.4M231.0,324.8v16.4M233.2,324.8v16.4" stroke="#d98812" stroke-width="0.45" fill="none" opacity="0.6"/>
<path d="M235.500,327.400 h8 q2.500,0 4,2.500 l3,6 v6.300 h-15z" fill="#f7a823"/>
<path d="M240,329.500 h4 q1.500,0 2.300,1.500 l2,4.500 h-8.300z" fill="#bfe0f1"/>
<rect x="201.400" y="341.800" width="49.500" height="2.600" fill="#2c3e55"/>
<circle cx="209.300" cy="345" r="3.100" fill="#2c3e55"/><circle cx="216.800" cy="345" r="3.100" fill="#2c3e55"/><circle cx="242" cy="345" r="3.100" fill="#2c3e55"/>
<circle cx="209.300" cy="345" r="1.300" fill="#8e9aa8"/><circle cx="216.800" cy="345" r="1.300" fill="#8e9aa8"/><circle cx="242" cy="345" r="1.300" fill="#8e9aa8"/>
</g>
<!--SHIP1-->
<g id="ship1">
<ellipse cx="232" cy="395" rx="58" ry="1.300" fill="#cfd2d6"/>
<rect x="189.0" y="360.0" width="16.3" height="9.8" fill="#e0412f"/><path d="M191.3,360.8v8.2M193.7,360.8v8.2M196.0,360.8v8.2M198.3,360.8v8.2M200.6,360.8v8.2M203.0,360.8v8.2" stroke="#b02a1e" stroke-width="0.45" fill="none" opacity="0.6"/><rect x="216.6" y="360.0" width="31.0" height="9.8" fill="#2f86bd"/><path d="M218.8,360.8v8.2M221.0,360.8v8.2M223.2,360.8v8.2M225.5,360.8v8.2M227.7,360.8v8.2M229.9,360.8v8.2M232.1,360.8v8.2M234.3,360.8v8.2M236.5,360.8v8.2M238.7,360.8v8.2M241.0,360.8v8.2M243.2,360.8v8.2M245.4,360.8v8.2" stroke="#1d5f90" stroke-width="0.45" fill="none" opacity="0.6"/><rect x="247.6" y="360.0" width="9.7" height="9.8" fill="#f7a823"/><path d="M250.0,360.8v8.2M252.4,360.8v8.2M254.9,360.8v8.2" stroke="#d98812" stroke-width="0.45" fill="none" opacity="0.6"/><rect x="188.5" y="369.8" width="28.1" height="9.7" fill="#f7a823"/><path d="M190.8,370.6v8.1M193.2,370.6v8.1M195.5,370.6v8.1M197.9,370.6v8.1M200.2,370.6v8.1M202.6,370.6v8.1M204.9,370.6v8.1M207.2,370.6v8.1M209.6,370.6v8.1M211.9,370.6v8.1M214.3,370.6v8.1" stroke="#d98812" stroke-width="0.45" fill="none" opacity="0.6"/><rect x="216.6" y="369.8" width="7.4" height="9.7" fill="#e0412f"/><path d="M219.1,370.6v8.1M221.5,370.6v8.1" stroke="#b02a1e" stroke-width="0.45" fill="none" opacity="0.6"/><rect x="224.0" y="369.8" width="16.2" height="9.7" fill="#f7a823"/><path d="M226.3,370.6v8.1M228.6,370.6v8.1M230.9,370.6v8.1M233.3,370.6v8.1M235.6,370.6v8.1M237.9,370.6v8.1" stroke="#d98812" stroke-width="0.45" fill="none" opacity="0.6"/><rect x="240.2" y="369.8" width="16.4" height="9.7" fill="#e0412f"/><path d="M242.5,370.6v8.1M244.9,370.6v8.1M247.2,370.6v8.1M249.6,370.6v8.1M251.9,370.6v8.1M254.3,370.6v8.1" stroke="#b02a1e" stroke-width="0.45" fill="none" opacity="0.6"/><rect x="256.6" y="369.8" width="7.9" height="9.7" fill="#f7a823"/><path d="M259.2,370.6v8.1M261.9,370.6v8.1" stroke="#d98812" stroke-width="0.45" fill="none" opacity="0.6"/>
<path d="M176.300,372.500 H187.500 V379.300 H265 L266.500,376 H277 L287.700,373.600 Q285,386 280,393.400 H183 Q177,388 176.300,372.500z" fill="#2b3f5c"/>
<path d="M178.300,387 H283.300 Q282,390.500 280,393.400 H183 Q179.500,391 178.300,387z" fill="#e0483a"/>
<rect x="179" y="375.500" width="5" height="2.500" fill="#dfe7ee"/><rect x="269" y="377.500" width="4" height="2" fill="#dfe7ee"/>
</g>
<!--SHIP2-->
<g id="ship2">
<ellipse cx="256" cy="461.500" rx="58" ry="1.300" fill="#cfd2d6"/>
<rect x="229.6" y="423.0" width="7.9" height="9.8" fill="#e0412f"/><path d="M232.2,423.8v8.2M234.9,423.8v8.2" stroke="#b02a1e" stroke-width="0.45" fill="none" opacity="0.6"/><rect x="237.5" y="423.0" width="23.5" height="9.8" fill="#2f86bd"/><path d="M239.8,423.8v8.2M242.2,423.8v8.2M244.6,423.8v8.2M246.9,423.8v8.2M249.2,423.8v8.2M251.6,423.8v8.2M253.9,423.8v8.2M256.3,423.8v8.2M258.6,423.8v8.2" stroke="#1d5f90" stroke-width="0.45" fill="none" opacity="0.6"/><rect x="261.0" y="423.0" width="8.0" height="9.8" fill="#f7a823"/><path d="M263.7,423.8v8.2M266.3,423.8v8.2" stroke="#d98812" stroke-width="0.45" fill="none" opacity="0.6"/><rect x="229.6" y="432.8" width="7.9" height="9.8" fill="#f7a823"/><path d="M232.2,433.6v8.2M234.9,433.6v8.2" stroke="#d98812" stroke-width="0.45" fill="none" opacity="0.6"/><rect x="237.5" y="432.8" width="15.3" height="9.8" fill="#e0412f"/><path d="M240.1,433.6v8.2M242.6,433.6v8.2M245.2,433.6v8.2M247.7,433.6v8.2M250.2,433.6v8.2" stroke="#b02a1e" stroke-width="0.45" fill="none" opacity="0.6"/><rect x="252.8" y="432.8" width="8.2" height="9.8" fill="#f7a823"/><path d="M255.5,433.6v8.2M258.3,433.6v8.2" stroke="#d98812" stroke-width="0.45" fill="none" opacity="0.6"/><rect x="261.0" y="432.8" width="8.0" height="9.8" fill="#e0412f"/><path d="M263.7,433.6v8.2M266.3,433.6v8.2" stroke="#b02a1e" stroke-width="0.45" fill="none" opacity="0.6"/><rect x="269.0" y="432.8" width="18.0" height="9.8" fill="#f7a823"/><path d="M271.2,433.6v8.2M273.5,433.6v8.2M275.8,433.6v8.2M278.0,433.6v8.2M280.2,433.6v8.2M282.5,433.6v8.2M284.8,433.6v8.2" stroke="#d98812" stroke-width="0.45" fill="none" opacity="0.6"/>
<rect x="207" y="416.400" width="18" height="6" fill="#e8f1f7"/><rect x="206" y="419.500" width="20" height="2.500" fill="#2b3f5c"/>
<rect x="201.500" y="422" width="26.500" height="21" fill="#cfe6f3"/>
<g fill="#2272aa"><rect x="204.0" y="425.5" width="2.6" height="2.8"/><rect x="208.6" y="425.5" width="2.6" height="2.8"/><rect x="213.2" y="425.5" width="2.6" height="2.8"/><rect x="217.8" y="425.5" width="2.6" height="2.8"/><rect x="222.4" y="425.5" width="2.6" height="2.8"/><rect x="204.0" y="430.7" width="2.6" height="2.8"/><rect x="208.6" y="430.7" width="2.6" height="2.8"/><rect x="213.2" y="430.7" width="2.6" height="2.8"/><rect x="217.8" y="430.7" width="2.6" height="2.8"/><rect x="222.4" y="430.7" width="2.6" height="2.8"/><rect x="204.0" y="435.9" width="2.6" height="2.8"/><rect x="208.6" y="435.9" width="2.6" height="2.8"/><rect x="213.2" y="435.9" width="2.6" height="2.8"/><rect x="217.8" y="435.9" width="2.6" height="2.8"/><rect x="222.4" y="435.9" width="2.6" height="2.8"/></g>
<rect x="214.800" y="411" width="2.600" height="5.500" fill="#2b3f5c"/><circle cx="216.100" cy="409.500" r="1.500" fill="#e8b04a"/><rect x="214.800" y="407.300" width="2.600" height="1.400" fill="#f7a823"/>
<rect x="197.600" y="428" width="0.800" height="15" fill="#8e9aa8"/>
<path d="M195.200,442.700 H295 L300.500,436.600 H318.500 Q314,450 307.300,459.600 H203.750 Q197,452 195.200,442.700z" fill="#2f7fb9"/>
<path d="M198.500,452.400 H311.500 Q309.500,456.500 307.300,459.600 H203.750 Q200.500,456.500 198.500,452.400z" fill="#1f4e7a"/>
<path d="M300.500,436.600 H318.500 Q316.500,443 313.500,448.500 H292 z" fill="#256aa0" opacity="0.600"/>
</g>
<!--AIRPLANE-->
<g id="plane">
<polygon points="337.100,155.400 341.500,155.800 358,166.300 361,169.500 344,169.500" fill="#d4e0e9"/>
<polygon points="337.100,155.400 338.800,155.500 346.500,169.500 344,169.500" fill="#1f6f9e"/>
<polygon points="288.100,152.600 297.800,153.100 307.800,169 293.400,169.800" fill="#1f6f9e"/>
<path d="M291,171 Q296,169 305,168.800 L380,169.600 Q393,170.600 398.600,178.500 Q397,184.600 388,184.800 L335,184.800 Q315,184 299,177 Q292,174.500 291,171z" fill="#e2ebf1"/>
<path d="M299,177 Q315,184 335,184.800 L388,184.800 Q396,184.600 398.600,178.500 Q394,182 386,182.300 L338,182.300 Q318,181.500 301,175.200z" fill="#1f6f9e"/>
<polygon points="284.600,176.800 292.500,171.500 301,172.400 289.900,178.500" fill="#d4e0e9"/>
<polygon points="284.600,176.800 289.900,178.500 291.500,177.600 286.200,175.800" fill="#1f6f9e"/>
<path d="M345,190.400 h7.500 q3,0 3,3.400 q0,3.400 -3,3.400 h-7.500 q-3.500,-3.400 0,-6.800z" fill="#1f6f9e"/><rect x="354.300" y="190.200" width="1.800" height="7.200" rx="0.800" fill="#d4e0e9"/>
<polygon points="366,179.500 342,181 316.500,200.400 321.800,202.600" fill="#d4e0e9"/>
<polygon points="342,181 344.500,180.800 318.500,201.200 316.500,200.400" fill="#1f6f9e"/>
<path d="M313.500,176 H380" stroke="#2b3f5c" stroke-width="1.300" stroke-dasharray="1.100 1.550" fill="none"/>
<path d="M388.600,174 h5 l1.500,1.800 h-6.500z" fill="#2b3f5c"/>
</g>

<!--ORANGE LINES-->
<g id="orangelines" fill="none" stroke="#f1b542" stroke-width="1.200" stroke-linecap="round" stroke-linejoin="round">
<path d="M422,224 V188.500 q0,-6.500 6.500,-6.500 H468"/>
<path d="M427.300,233.700 V230 q0,-5 5,-5 h4 q3.500,0 4.500,2.500 q1,2.500 4,2.500 h7 q5,0 5,-5"/>
<path d="M445,229 V225"/>
<path d="M483,198.800 H494 q6.500,0 6.500,6.500 V214"/>
<path d="M529,222 H490 q-6,0 -6,6 V246 q0,6 6,6 H529"/>
<path d="M480.500,228.800 L471,238 q-1.500,1.500 -1.500,4 V246 q0,4.700 -4.700,4.700"/>
<path d="M464.600,250.700 H442" stroke-dasharray="2.500 1.800"/>
<path d="M441,301.600 H467 q5.400,0 5.400,5.400 V316.700 L482,327 H505 q7,0 7,7 V376 q0,6.600 -6.600,6.600 H477 q-7,0 -7,-7 V369"/>
<path d="M481.800,346.600 H498.700 q5.900,0 5.900,5.900 V374.500"/>
<path d="M461,311.800 H469 L479.800,323.500"/>
<path d="M445.600,322.800 H466 L472.400,329 V355.700 L466,362.600 H445.600 L437,354.500 V331.300z"/>
<path d="M418.400,324.500 V361 q0,6 6,8.500 q5,3.500 12,3.500 H470"/>
<path d="M407.100,321 V340" stroke-dasharray="2 1.800"/>
</g>
<g fill="none" stroke="#3f9cc7" stroke-width="1" stroke-linecap="round"><path d="M407.100,342 V399 q0,7 7,7 H466" stroke-dasharray="2 1.800"/></g>
<path d="M465,403.500 l4.500,2.700 l-4.500,2.700z" fill="#3f9cc7"/>
<g id="orangeheads" fill="#f1b542" stroke="#f1b542" stroke-width="0.800" stroke-linejoin="round">
<path d="M466.500,179 l5,3 l-5,3z"/>
<path d="M527.500,219 l5,3 l-5,3z"/><path d="M527.500,249 l5,3 l-5,3z"/>
<path d="M443.500,226 l1.500,-3 l1.500,3z"/>
</g>
<g fill="none" stroke="#f1b542" stroke-width="1.600" stroke-linecap="round" stroke-linejoin="round">
<path d="M444,246.500 l-5,4.200 l5,4.200"/>
<path d="M443.500,297.500 l-4.500,4.100 l4.500,4.100"/>
<path d="M463,308.200 l-4,3.600 l4,3.600" stroke-width="1.300"/>
<path d="M403,325.500 l4.100,-6 l4.100,6"/>
<path d="M414.300,328.500 l4.100,-6 l4.100,6"/>
</g>
<!--LABELS-->
<g fill="#1d1d1f" stroke="#1d1d1f" stroke-width="0.300" font-size="10.200">
<text x="263.400" y="311.800" textLength="41" lengthAdjust="spacingAndGlyphs">MARKET</text>
<text x="263.400" y="322.200" textLength="43.300" lengthAdjust="spacingAndGlyphs">DEMAND</text>
<text x="447" y="158.800" font-size="11" textLength="36.500" lengthAdjust="spacingAndGlyphs">SUPPLY</text>
<text x="448" y="169.200" font-size="11" textLength="31.300" lengthAdjust="spacingAndGlyphs">CHAIN</text>
<text x="490.700" y="237.500" font-size="10.300" textLength="54.300" lengthAdjust="spacingAndGlyphs">ECONOMIC</text>
<text x="498" y="247.900" font-size="10.300" textLength="37" lengthAdjust="spacingAndGlyphs">IMPACT</text>
<text x="414.500" y="390.500" font-size="9.300" textLength="39.500" lengthAdjust="spacingAndGlyphs">DREGLJY</text>
<text x="414.500" y="401.700" font-size="9.300" textLength="39.500" lengthAdjust="spacingAndGlyphs">DIMAND</text>
</g>
<!--ICON: supply chain-->
<g id="ic_supply">
<rect x="430.200" y="157" width="11.800" height="12.500" rx="0.800" fill="#8fa3b0"/><rect x="431.300" y="158.200" width="9.600" height="10" fill="#a3b5c0"/><rect x="429.300" y="169" width="13.600" height="2.200" fill="#24364d"/>
<path d="M433,148 h8 v4 h-3 v4.500 h-5z" fill="#24364d"/><rect x="435.400" y="150" width="3.200" height="3.200" fill="#eef2f5"/>
<path d="M434.500,163 q2,-2.500 4,0 q-1,2.500 -3,1.500z" fill="#24364d"/>
</g>
<!--ICON: blue circle-->
<g id="ic_bluecircle">
<circle cx="319.600" cy="216" r="17" fill="#55acd3"/><circle cx="319.600" cy="216" r="15" fill="#3d9cc6"/>
<path d="M311,212 v-3.500 q0,-2.500 2.300,-2.500 q2.300,0 2.300,2.500 v3.500z M323,212 v-3.500 q0,-2.500 2.300,-2.500 q2.300,0 2.300,2.500 v3.500z" fill="#1c4a78"/>
<rect x="310.500" y="211.300" width="17.200" height="12" rx="3" fill="#17395f"/>
<ellipse cx="318.500" cy="216" rx="4" ry="2.800" fill="none" stroke="#5fa9cf" stroke-width="0.800"/>
<path d="M325,215 h3 M326.500,215 v6" stroke="#5fa9cf" stroke-width="0.700" fill="none"/>
<path d="M309,213.500 l-1.800,10 h2.300z M329.800,213.500 l1.800,10 h-2.300z" fill="#1c4a78"/>
<rect x="321.300" y="222" width="6.500" height="5.500" rx="2" fill="#17395f"/>
</g>
<!--ICON: orange circle food-->
<g id="ic_food">
<circle cx="458.500" cy="205" r="17.500" fill="#f6b334"/>
<ellipse cx="458.500" cy="209" rx="13" ry="6.500" fill="#2e7ea8"/>
<ellipse cx="458.500" cy="208.300" rx="8.500" ry="4.600" fill="#f3e3cf"/>
<circle cx="454.500" cy="208" r="2.200" fill="#d9402b"/><circle cx="462.500" cy="207.500" r="2.200" fill="#d9402b"/><circle cx="458.500" cy="211" r="2" fill="#d9402b"/>
<path d="M451,199.500 q7.500,-5 16,-1 l-2.500,2.500 q-6,1.500 -11,0.500z" fill="#e79a1d"/><rect x="454" y="200.500" width="9" height="3" fill="#c76a2a"/>
</g>
<!--ICON: monitors-->
<g id="ic_mon">
<rect x="339.800" y="333.200" width="16.500" height="12.500" rx="1" fill="#2a78b0"/><rect x="341" y="334.400" width="14.100" height="10" fill="#41a3dc"/>
<rect x="349" y="342.500" width="13.500" height="9.500" rx="1" fill="#2a78b0"/><rect x="350" y="343.500" width="11.500" height="7.500" fill="#41a3dc"/>
<path d="M334,346 h13 l2,3 v5.500 h-15z" fill="#f7a823"/><circle cx="349" cy="352" r="3.300" fill="#f08c1a"/><circle cx="344" cy="353.500" r="2" fill="#f9b53a"/><rect x="336" y="348" width="8" height="1" fill="#d98812"/>
</g>
<!--ICON: phone-->
<g id="ic_phone">
<rect x="325.500" y="357" width="4.500" height="4" rx="1" fill="#2b3f5c"/>
<rect x="321.200" y="360" width="13.400" height="20.700" rx="2.500" fill="#2b3f5c"/><rect x="323.500" y="365" width="8.800" height="9" fill="#e4ebf1"/><rect x="323.500" y="368" width="8.800" height="1.200" fill="#8fa1b1"/>
<rect x="334.600" y="366" width="8.400" height="14.700" rx="2" fill="#3b5d84"/><rect x="336.300" y="368" width="5" height="10" rx="1" fill="#7fb4d6"/>
</g>
<!--ICON: gears-->
<g id="ic_gears">
<circle cx="367" cy="368" r="3.800" fill="#2b3f5c"/><circle cx="373" cy="372" r="3.800" fill="#2b3f5c"/><circle cx="364" cy="373" r="3.200" fill="#3b5d84"/><rect x="366" y="372" width="5" height="8" fill="#2b3f5c"/>
<circle cx="361" cy="384" r="6.300" fill="#2b3f5c"/><circle cx="361" cy="384" r="3.800" fill="#6f9fc4"/><circle cx="361" cy="384" r="1.800" fill="#2b3f5c"/>
<rect x="369.500" y="380.500" width="13.500" height="9.500" rx="2" fill="#2b3f5c"/><rect x="371.500" y="382.300" width="9.500" height="5.500" rx="1" fill="#7f9fba"/><rect x="372" y="389.500" width="3" height="2.500" fill="#2b3f5c"/><rect x="377.500" y="389.500" width="3" height="2.500" fill="#2b3f5c"/>
</g>
<!--ICON: tshirt-->
<path id="ic_tshirt" d="M489.500,302 q6.500,3.500 13,0 l7.700,5 l-3.800,7.300 l-1.800,-1 v12.500 h-16.400 v-12.500 l-1.800,1 l-4.600,-7.300z" fill="#3a9fd0"/>
<path d="M490.800,302.600 q5.200,4 10.400,0" fill="none" stroke="#2a7fb0" stroke-width="1"/>
<!--ICON: cart-->
<g id="ic_cart">
<path d="M513,322 V299 q0,-1.500 1.500,-1.500 H534 q1.500,0 1.500,1.500 V322" fill="#f4f6f8" fill-opacity="0.600" stroke="#2b3040" stroke-width="1.100"/>
<path d="M515.300,298 q0,-3.500 2.300,-3.500 q2.300,0 2.300,3.500 M529.500,298 q0,-3.500 2.300,-3.500 q2.300,0 2.300,3.500" fill="none" stroke="#2b3040" stroke-width="0.800"/>
<path d="M519,303.500 l8,-1.500 l2,9 l-9,1.500z" fill="#3a9bd1"/>
<path d="M527.400,306 h7.600 l0.500,9.500 h-8.600z" fill="#f0952a"/><path d="M529,306 q0,-3 2.200,-3 q2.200,0 2.200,3" fill="none" stroke="#2b3040" stroke-width="0.700"/>
<rect x="535" y="303.500" width="3.400" height="11" rx="1" fill="#2e7ea8"/>
<rect x="515.600" y="312.800" width="20.300" height="8.600" fill="#f5a828"/><path d="M520.500,313v8M525.500,313v8M530.500,313v8" stroke="#d98812" stroke-width="0.600"/>
<rect x="512.500" y="321" width="25" height="2.600" fill="#2b3040"/>
<circle cx="518" cy="324.600" r="1.600" fill="#2b3040"/><circle cx="532" cy="324.600" r="1.600" fill="#2b3040"/>
<circle cx="541" cy="316.500" r="3" fill="#f5c04a"/><circle cx="541" cy="316.500" r="1.500" fill="#4c9a35"/><circle cx="539.500" cy="321" r="2.300" fill="#f5a828"/><circle cx="543.300" cy="320.500" r="1.800" fill="#6fb24a"/>
</g>
<!--ICON: basket-->
<g id="ic_basket">
<path d="M450.500,338 v-3 q0,-5 5,-5 q5,0 5,5 v3" fill="none" stroke="#24466a" stroke-width="1.600"/>
<rect x="444.400" y="337" width="22" height="3.200" fill="#2a78b0"/>
<path d="M445.500,340 h19.800 l-0.800,14.500 h-18.200z" fill="#bcdcf0"/>
<path d="M448,340.500v13.500M451,340.500v13.500M454,340.500v13.500M457,340.500v13.500M460,340.500v13.500M463,340.500v13.500" stroke="#2f86bd" stroke-width="1.500"/>
<rect x="445.800" y="352.500" width="19.200" height="2.300" fill="#2a78b0"/>
<rect x="452" y="349" width="7" height="4" fill="#24466a"/>
</g>
<!--ICON: tags-->
<g id="ic_tags">
<path d="M475,358 l5,-4.500 l6,2.500 l0.500,14 q-4.500,5 -10.500,2.500z" fill="#f5a828"/><circle cx="480.300" cy="356.300" r="1" fill="#fbf3e0"/><path d="M477.500,361 l0.500,9" stroke="#e08a1a" stroke-width="0.700"/>
<path d="M481.500,363 l9,-9 l8,7.500 l-8.500,10.500z" fill="#2e86c0"/>
<path d="M488,360 l9,-7 l8,9 l-8.500,10z" fill="#3a9bd1"/><path d="M494,359.500 l4,1 l-3,4.500 l-2.500,-2z" fill="#f7c85a"/><circle cx="496.500" cy="355.800" r="0.800" fill="#fbf3e0"/>
</g>

<!--PEOPLE-->
<g id="people">
<!-- umbrella -->
<rect x="666.500" y="320" width="81.500" height="78" fill="#e9ecef" opacity="0.700"/><rect x="665.600" y="320" width="1.500" height="78.500" fill="#c9d1d9"/><rect x="747.300" y="320" width="1.500" height="78.500" fill="#c9d1d9"/>
<path d="M677.0,298.2 L686.1,298.2 L677.4,320.5 q-6.18,4.8 -12.36,0z" fill="#fbf7f2"/><path d="M686.1,298.2 L695.3,298.2 L689.7,320.5 q-6.18,4.8 -12.36,0z" fill="#e2402d"/><path d="M695.3,298.2 L704.4,298.2 L702.1,320.5 q-6.18,4.8 -12.36,0z" fill="#fbf7f2"/><path d="M704.4,298.2 L713.6,298.2 L714.4,320.5 q-6.18,4.8 -12.36,0z" fill="#e2402d"/><path d="M713.6,298.2 L722.7,298.2 L726.8,320.5 q-6.18,4.8 -12.36,0z" fill="#fbf7f2"/><path d="M722.7,298.2 L731.9,298.2 L739.1,320.5 q-6.18,4.8 -12.36,0z" fill="#e2402d"/><path d="M731.9,298.2 L741.0,298.2 L751.5,320.5 q-6.18,4.8 -12.36,0z" fill="#fbf7f2"/>
<!-- man A -->
<g id="manA">
<ellipse cx="603" cy="369" rx="40" ry="1.600" fill="#d0d3d7"/>
<path d="M587,327.500 q8,-4 16.500,0 l5,4 l13,8.500 l-1.500,3.200 l-13.500,-5.500 l-1,18 h-19.500 l0.500,-18 q-5,-4 -10,-3 l-2,7.500 l-3,-0.800 l1.500,-9 q3,-3.500 14,-4.900z" fill="#2b78a8"/>
<path d="M593,325.500 l4.700,6 l4.700,-6z" fill="#8cc6e6"/>
<circle cx="621.300" cy="342" r="1.900" fill="#f0b58c"/><circle cx="575.200" cy="337.500" r="1.800" fill="#f0b58c"/>
<rect x="595" y="322" width="5" height="5" fill="#e4a27a"/>
<ellipse cx="597.800" cy="318.600" rx="5" ry="6" fill="#f0b58c"/>
<path d="M592,317.500 q-1.200,-7.500 6,-7.400 q6,0 5.500,4.800 q-2,-1.500 -5.500,-1.300 q-4,0.200 -4.500,3.200 l-0.500,4z" fill="#3a2a25"/>
<path d="M593.300,319.500 q0.500,5.500 5.500,5.500 q3.500,0 4,-3.500 q-3,1.500 -5,0.500 q-2.500,-1 -4.500,-2.500z" fill="#3a2a25"/>
<path d="M571,341.500 q0,-6 5.400,-6 q5.400,0 5.400,6" fill="none" stroke="#7a1e16" stroke-width="1"/>
<rect x="567.200" y="341.100" width="22.400" height="15.200" fill="#e0362c"/><rect x="567.200" y="341.100" width="22.400" height="2" fill="#b8261e"/>
<rect x="594.8" y="348.09999999999997" width="13.2" height="7.6" fill="#f5a828"/><rect x="594.1999999999999" y="345.7" width="14.399999999999999" height="3.2" fill="#f9bb45"/><rect x="600" y="345.7" width="2.2" height="10" fill="#d9402b"/><rect x="612.2" y="347.4" width="19.4" height="8.4" fill="#f5a828"/><rect x="611.6" y="345" width="20.599999999999998" height="3.2" fill="#f9bb45"/><rect x="619.8" y="345" width="2.2" height="10.8" fill="#d9402b"/>
<rect x="565.3" y="358.0" width="24.9" height="10.2" fill="#f5a828"/><rect x="564.6999999999999" y="355.6" width="26.099999999999998" height="3.2" fill="#f9bb45"/><rect x="573.8" y="355.6" width="2.2" height="12.6" fill="#d9402b"/><rect x="590.5" y="358.59999999999997" width="4.3" height="9.6" fill="#f5a828"/><rect x="589.9" y="356.2" width="5.5" height="3.2" fill="#f9bb45"/><rect x="591.5" y="356.2" width="2.2" height="12" fill="#d9402b"/><rect x="594.8" y="358.0" width="20.4" height="10.2" fill="#f5a828"/><rect x="594.1999999999999" y="355.6" width="21.599999999999998" height="3.2" fill="#f9bb45"/><rect x="604.5" y="355.6" width="2.2" height="12.6" fill="#d9402b"/><rect x="615.8" y="355.4" width="23" height="12.799999999999999" fill="#f5a828"/><rect x="615.1999999999999" y="353" width="24.2" height="3.2" fill="#f9bb45"/><rect x="625.8" y="353" width="2.2" height="15.2" fill="#d9402b"/>
</g>
<!-- man B seated -->
<g id="manB">
<ellipse cx="590" cy="448.800" rx="36" ry="1.500" fill="#d0d3d7"/>
<path d="M567,398 v23 M567,421 h14 M568.500,421 v25 M580,421 v25" stroke="#23262e" stroke-width="1.700" fill="none"/>
<path d="M584.600,412 h16 q5,0 5,5 v27 h-6 v-23 h-15z" fill="#24466a"/><path d="M598,444 h9 l1.500,2.500 h-10.500z" fill="#23262e"/>
<path d="M586,415 h10 q4,0 4,4 v25 h-5.500 v-21 h-8.500z" fill="#1d3a59"/><path d="M593,444 h8 l1.500,2.500 h-9.500z" fill="#23262e"/>
<path d="M577,389 q8,-3 15,0 l4,5 l9,-3.500 l1.500,3 l-10,7 l-1,12 h-22 q-3,-16 3.500,-23.500z" fill="#f5b52e"/>
<path d="M586,388 v24" stroke="#d99a1d" stroke-width="0.700"/>
<rect x="584" y="384" width="4.500" height="5" fill="#e9a57a"/>
<ellipse cx="586.500" cy="381" rx="4.800" ry="5.600" fill="#f2b48a"/>
<path d="M581,380.500 q-1.500,-8 5.500,-8.500 q6.500,0 6.500,5.500 q-2.500,-1.800 -6,-1.500 q-4,0.500 -4.500,3.500 l-0.500,3z" fill="#1d2430"/>
<path d="M584,384 q3,1.500 6,0 l-0.500,1.500 q-2.500,1 -5,0z" fill="#1d2430"/>
<circle cx="606" cy="392" r="1.800" fill="#f2b48a"/>
<rect x="577" y="410" width="40" height="3.800" fill="#2b2f3a"/><rect x="613.500" y="413" width="1.800" height="33" fill="#2b2f3a"/><rect x="579" y="413" width="1.800" height="10" fill="#2b2f3a"/>
<path d="M600,410 l1.500,-8 q4.500,-8 9,0 l1.500,8z" fill="#f3e0bf"/><path d="M601,405 h10.500 l0.500,5 h-11.500z" fill="#f0952a"/><circle cx="606" cy="396.500" r="1.600" fill="#f0952a"/>
<path d="M562,422 q0,-6 7,-6 q7,0 7,6" fill="none" stroke="#23262e" stroke-width="1"/>
<path d="M558.500,421.200 h22 l1.500,27 h-24.500z" fill="#2f86c6"/><path d="M577,421.200 h3.500 l1.500,27 h-4z" fill="#2673ad"/>
</g>
<!-- man C standing -->
<g id="manC">
<path d="M621,408 h16.500 l-0.800,34.500 h-5.700 l-1.400,-26 l-2,26 h-5.800z" fill="#3fa0d8"/>
<path d="M620.500,442.300 h7 v2.800 h-9z M630.500,442.300 h7 l1.500,2.800 h-8.500z" fill="#6b3a24"/>
<path d="M620,382 q8,-3 16,0 q5,3 5.500,12 l0.200,15 h-23.500 l0.300,-13 l-8,-2 l0.500,-3 l8,0.500 q-1,-6 1,-9.500z" fill="#2a6da5"/>
<path d="M625.500,381.500 h5.500 l-0.500,27 h-4.500z" fill="#e05a22"/>
<rect x="625.800" y="377" width="4.500" height="5" fill="#e9a57a"/>
<ellipse cx="627.800" cy="373.800" rx="4.600" ry="5.400" fill="#f2b48a"/>
<path d="M622.700,373 q-1,-8 5.500,-8 q6,0 5.500,6.500 q-2,-2.500 -5.500,-2.300 q-3.500,0.200 -4,3 l-0.500,3.500z" fill="#2a201e"/>
<path d="M624.500,375.500 q3.500,5 7,0.500 l-0.500,3 q-3,2.500 -6,-0.300z" fill="#2a201e"/>
<path d="M628.500,391 q1,-5 4,-5.500 q3,0.500 3,5.500z" fill="#4c9a35"/>
<path d="M626.600,391 h10.800 l-1,7 h-8.800z" fill="#d9a86a"/>
<circle cx="611" cy="393.500" r="1.700" fill="#f2b48a"/>
</g>
<!-- couple -->
<g id="couple">
<ellipse cx="707" cy="399.500" rx="38" ry="1.500" fill="#d0d3d7"/>
<path d="M672.500,346 v27 M672,372.300 h16 M674,373 v24 M687,373 v24" stroke="#23262e" stroke-width="1.700" fill="none"/>
<path d="M737.500,350 v22 M724,372.300 h14 M725,373 v24 M737,373 v24" stroke="#23262e" stroke-width="1.700" fill="none"/>
<path d="M678.600,365 h14 q6,0 6.500,5 l1.500,25 h-6 l-2,-20 h-14z" fill="#2a68a0"/><path d="M693.500,395 h8.500 l2,2.500 h-10.500z" fill="#23262e"/>
<rect x="672.500" y="346" width="4" height="24" rx="1.500" fill="#a82c26"/><path d="M676,346 q7,-3 13,0 l2,4 l5,-2 l1.500,2.500 l-6,5.500 l0.500,10 h-17 q-3,-13 1,-20z" fill="#d9402b"/>
<path d="M688.500,349 l3,6 l5.500,-4.500 l1.500,2 l-7,7 l-4,-3z" fill="#f5b52e"/>
<path d="M675,347 q-3,4 -2.500,12 l3,0.500z" fill="#f5b52e"/>
<circle cx="697.500" cy="350.500" r="1.700" fill="#f2b48a"/>
<rect x="681" y="342.500" width="4.500" height="4.500" fill="#e9a57a"/>
<ellipse cx="683.500" cy="339.600" rx="4.500" ry="5.300" fill="#f2b48a"/>
<path d="M678.500,339.500 q-1.500,-8.500 5.500,-8.500 q6,0 5.500,6 q-2.500,-2 -5.500,-1.800 q-3.500,0.300 -3.500,3.300 l-0.500,4z" fill="#1d2430"/>
<path d="M681,342 q2.500,3 5.500,0.200 l-0.300,2 q-2.500,1.500 -5,-0.200z" fill="#1d2430"/>
<!-- woman E -->
<path d="M716,369 h15 l-0.500,27 h-5.500 l-1,-20 l-3,20 h-6z" fill="#f5a828"/><path d="M713.500,395.500 h8 v2.300 h-9.500z M724,395.500 h7.500 l1,2.300 h-8.500z" fill="#23262e"/>
<path d="M720,347 q7.500,-3 15,0 q4,3 4.500,10 l0.500,14 h-23 l0.500,-9 l-6.500,-2 l0.500,-3 l7,0.500 q-0.500,-5 1.500,-7.500z" fill="#f5a828"/>
<path d="M724.500,346.500 l3,8 l3,-8z" fill="#fbf5ea"/><path d="M726,354 h3.500 l1,10 h-5.500z" fill="#fbf5ea"/>
<path d="M721,337 q0,-8.500 6.800,-8.500 q7,0 6.800,8.500 q0,5 2,9 h-17.500 q2,-4 1.900,-9z" fill="#3a221c"/>
<ellipse cx="727.400" cy="338.700" rx="4.100" ry="5" fill="#f2b48a"/>
<path d="M723,336 q2,-4.500 8.500,-3 q-3,1 -4.500,1 q-3,0 -4,2z" fill="#3a221c"/>
<circle cx="711.500" cy="358.500" r="1.600" fill="#f2b48a"/>
<!-- table -->
<rect x="692" y="361.900" width="25.500" height="3" rx="1" fill="#2b2f3a"/><rect x="704" y="364" width="1.800" height="34" fill="#2b2f3a"/><rect x="699" y="396.500" width="12" height="1.600" fill="#2b2f3a"/>
<rect x="705.500" y="346" width="6.800" height="11.500" rx="1" fill="#2a78b0"/><rect x="705.500" y="349" width="6.800" height="4" fill="#e8f1f7"/><rect x="705" y="344.500" width="7.800" height="2" rx="0.800" fill="#1f5a8a"/>
<rect x="695.500" y="358.500" width="4" height="3.500" fill="#2b3f5c"/><rect x="712.500" y="359" width="3.500" height="3" fill="#e8f1f7"/>
</g>
<!-- man F laptop -->
<g id="manF">
<ellipse cx="704" cy="463.500" rx="38" ry="1.500" fill="#d0d3d7"/>
<path d="M668,416.500 v22 M669,439 v23 M682.500,439 v23" stroke="#2b2630" stroke-width="1.800" fill="none"/><rect x="666.500" y="437" width="18" height="3.200" rx="1.200" fill="#2b2630"/>
<path d="M674.500,430 h19 q7,0 7.500,6 l2,24 h-7 l-1.500,-17 h-20z" fill="#1f5f8a"/><path d="M684,441 h8 l-1,19 h-6.500z" fill="#1a5179"/><path d="M694,459 h8.500 l2.500,3 h-11z" fill="#23262e"/><path d="M684,459.500 h8 l1,2.500 h-9z" fill="#23262e"/>
<path d="M677,411.500 q7,-3 13,0 l3,6 l5,3.500 l-1.500,3 l-6,-2.500 l0.500,10.500 h-17.500 q-2.500,-14 3.500,-20.500z" fill="#f5a828"/>
<path d="M690,414 l4,7 l4.500,1 l-0.500,2.500 l-7,-1.500z" fill="#f2b48a"/>
<rect x="683" y="407.500" width="4.500" height="4.500" fill="#e9a57a"/>
<ellipse cx="685.400" cy="404.500" rx="4.500" ry="5.300" fill="#f2b48a"/>
<path d="M680.500,404 q-1.500,-8.500 5.500,-8.500 q6,0 5.500,6 q-2.500,-2 -5.500,-1.800 q-3.500,0.300 -3.500,3.300 l-0.500,4z" fill="#1d2430"/>
<path d="M682,406 q3.500,1 7,0 l-0.300,3 q-3,2 -6.400,0z" fill="#f3f3f1"/>
<path d="M692.500,416 l7.500,-1.500 l1,8 l-7.500,1.500z" fill="#2b2f3a"/>
<rect x="693.800" y="429.400" width="41" height="3.800" fill="#2b2f3a"/><rect x="695.500" y="433" width="1.800" height="29" fill="#2b2f3a"/><rect x="731" y="433" width="1.800" height="29" fill="#2b2f3a"/>
<path d="M711,412 h20.500 l-3.500,17.400 h-20.500z" fill="#5a6270"/><path d="M712.300,413.500 h17.500 l-2.900,14.500 h-17.600z" fill="#6f7886"/><rect x="703" y="428.600" width="25" height="1.300" fill="#3a4150"/>
<rect x="710.700" y="456" width="27" height="6.800" fill="#f5b52e"/><rect x="710.200" y="454.400" width="28" height="2.400" fill="#f9c552"/><rect x="723" y="454.400" width="2.200" height="8.400" fill="#d9402b"/><path d="M724,454.400 q-4,-4 -1,-4 q1.500,0 1,4 q-0.500,-4 1,-4 q3,0 -1,4z" fill="none" stroke="#d9402b" stroke-width="0.800"/>
</g>
</g>

<!--CHUTE CONTENTS-->
<g id="chuteitems">
<circle cx="57" cy="312" r="3" fill="#e0482b"/><path d="M55,309.500 q2,-2 4.500,-0.500" stroke="#f5a828" stroke-width="0.800" fill="none"/>
<g transform="rotate(-28 58 325.500)"><rect x="52" y="320.500" width="12" height="10" fill="#f59a25"/><rect x="57.300" y="320.500" width="1.600" height="10" fill="#e0642b"/><rect x="52" y="324.700" width="12" height="1.500" fill="#e0642b"/></g>
<g transform="rotate(20 58 340)"><rect x="54.500" y="336.500" width="7" height="7" fill="#f59a25"/><rect x="57.300" y="336.500" width="1.300" height="7" fill="#e0642b"/></g>
<g transform="rotate(-20 59 353.500)"><rect x="54" y="350.500" width="10.500" height="6" rx="2" fill="#f59a25"/><rect x="56" y="352" width="6" height="1.500" fill="#e0482b"/></g>
<g transform="rotate(-30 90 319.500)"><rect x="83.500" y="313.500" width="13.500" height="12" fill="#f59a25"/><rect x="89.500" y="313.500" width="1.600" height="12" fill="#e0642b"/><rect x="83.500" y="318.700" width="13.500" height="1.500" fill="#e0642b"/></g>
<g transform="rotate(15 92 333)"><rect x="88.500" y="329.500" width="7" height="7" fill="#f59a25"/><rect x="91.300" y="329.500" width="1.300" height="7" fill="#e0642b"/></g>
<path d="M87.500,345 q3,-3.500 7,-0.500 l-1,3z" fill="#3f8f3a"/><circle cx="90.600" cy="351.500" r="4.600" fill="#1d2a3a"/><circle cx="90.600" cy="351.500" r="2.800" fill="#f0b86a"/><circle cx="90.600" cy="351.800" r="1.300" fill="#e0642b"/>
<g transform="rotate(-25 123 317)"><rect x="118" y="312.500" width="10.500" height="9.500" fill="#f59a25"/><path d="M118,312.500 h10.500 l-5.250,5z" fill="#f3eee4"/></g><path d="M123.500,309 q3,-3.500 6.500,-0.500 q0,3.500 -4,4z" fill="#4c9a35"/><path d="M121,311 q1,-3 4,-3 l-1,4z" fill="#6fbe4a"/>
<circle cx="120.500" cy="363.500" r="2.300" fill="#f5c22e"/><circle cx="124.500" cy="362.500" r="2.500" fill="#f7d14a"/><circle cx="127" cy="364.500" r="2" fill="#f5c22e"/>
</g>
<g id="drops"><rect x="51.5" y="374.7" width="4.2" height="7.8" rx="0.6" fill="#d9362b"/><path d="M52.4,374.7 l1.2,-2.4 l1.2,2.4z" fill="#f5a828"/><rect x="58.1" y="366.5" width="2.9" height="5.5" rx="0.6" fill="#d9362b"/><path d="M58.8,366.5 l0.8,-1.7 l0.8,1.7z" fill="#f5a828"/><rect x="63.3" y="368.4" width="3.4" height="6.2" rx="0.6" fill="#d9362b"/><path d="M64.1,368.4 l0.9,-1.9 l0.9,1.9z" fill="#f5a828"/><rect x="61.1" y="384.1" width="3.8" height="7.0" rx="0.6" fill="#f5c04a"/><path d="M61.9,384.1 l1.1,-2.2 l1.1,2.2z" fill="#f8d98a"/><rect x="83.8" y="365.8" width="2.7" height="5.1" rx="0.6" fill="#f5c04a"/><path d="M84.4,365.8 l0.8,-1.6 l0.8,1.6z" fill="#f8d98a"/><rect x="88.9" y="369.3" width="3.4" height="6.2" rx="0.6" fill="#f5c04a"/><path d="M89.7,369.3 l0.9,-1.9 l0.9,1.9z" fill="#f8d98a"/><rect x="95.8" y="366.7" width="2.7" height="5.1" rx="0.6" fill="#d9362b"/><path d="M96.4,366.7 l0.8,-1.6 l0.8,1.6z" fill="#f5a828"/><rect x="84.3" y="378.8" width="3.4" height="6.2" rx="0.6" fill="#f5c04a"/><path d="M85.1,378.8 l0.9,-1.9 l0.9,1.9z" fill="#f8d98a"/><rect x="90.8" y="383.2" width="3.8" height="7.0" rx="0.6" fill="#d9362b"/><path d="M91.6,383.2 l1.1,-2.2 l1.1,2.2z" fill="#f5a828"/><rect x="94.5" y="391.9" width="4.2" height="7.8" rx="0.6" fill="#d9362b"/><path d="M95.4,391.9 l1.2,-2.4 l1.2,2.4z" fill="#f5a828"/><rect x="85.5" y="400.2" width="4.2" height="7.8" rx="0.6" fill="#d9362b"/><path d="M86.4,400.2 l1.2,-2.4 l1.2,2.4z" fill="#f5a828"/><rect x="118.5" y="376.7" width="2.9" height="5.5" rx="0.6" fill="#f5c04a"/><path d="M119.2,376.7 l0.8,-1.7 l0.8,1.7z" fill="#f8d98a"/><rect x="124.1" y="378.0" width="3.8" height="7.0" rx="0.6" fill="#d9362b"/><path d="M124.9,378.0 l1.1,-2.2 l1.1,2.2z" fill="#f5a828"/><rect x="116.3" y="385.3" width="2.5" height="4.7" rx="0.6" fill="#f3d9b0"/><path d="M116.9,385.3 l0.7,-1.4 l0.7,1.4z" fill="#f5a828"/></g>
<g id="fcircles">
<circle cx="55.800" cy="404.800" r="12.400" fill="#f7b02f"/><circle cx="55.800" cy="404.800" r="10.600" fill="#f5a62a" opacity="0.500"/>
<ellipse cx="51.500" cy="407.600" rx="5.300" ry="4.500" fill="#e4502a"/><ellipse cx="58.800" cy="400.400" rx="5" ry="3.600" fill="#e8562b"/><ellipse cx="60.800" cy="405.500" rx="3.800" ry="3" fill="#f0852a"/><path d="M53,403.500 q3,-3 5,-1" stroke="#c93a20" stroke-width="0.800" fill="none"/>
<circle cx="88.700" cy="430.400" r="12.800" fill="#f7b02f"/>
<g transform="rotate(38 86.500 433)"><rect x="82" y="425.500" width="9" height="15" rx="4" fill="#e9a94a"/><rect x="84" y="429" width="5" height="9.500" rx="2.500" fill="none" stroke="#c98a35" stroke-width="0.700"/></g>
<circle cx="94" cy="421.500" r="3.600" fill="#4c9a35"/><circle cx="98.500" cy="424.500" r="3.400" fill="#58a83c"/><circle cx="96" cy="427" r="3.200" fill="#3f8f3a"/><circle cx="91.500" cy="424" r="2.600" fill="#5fae3f"/><circle cx="100" cy="428.500" r="2.400" fill="#4c9a35"/>
</g>

</g>
</svg>
</body></html>
